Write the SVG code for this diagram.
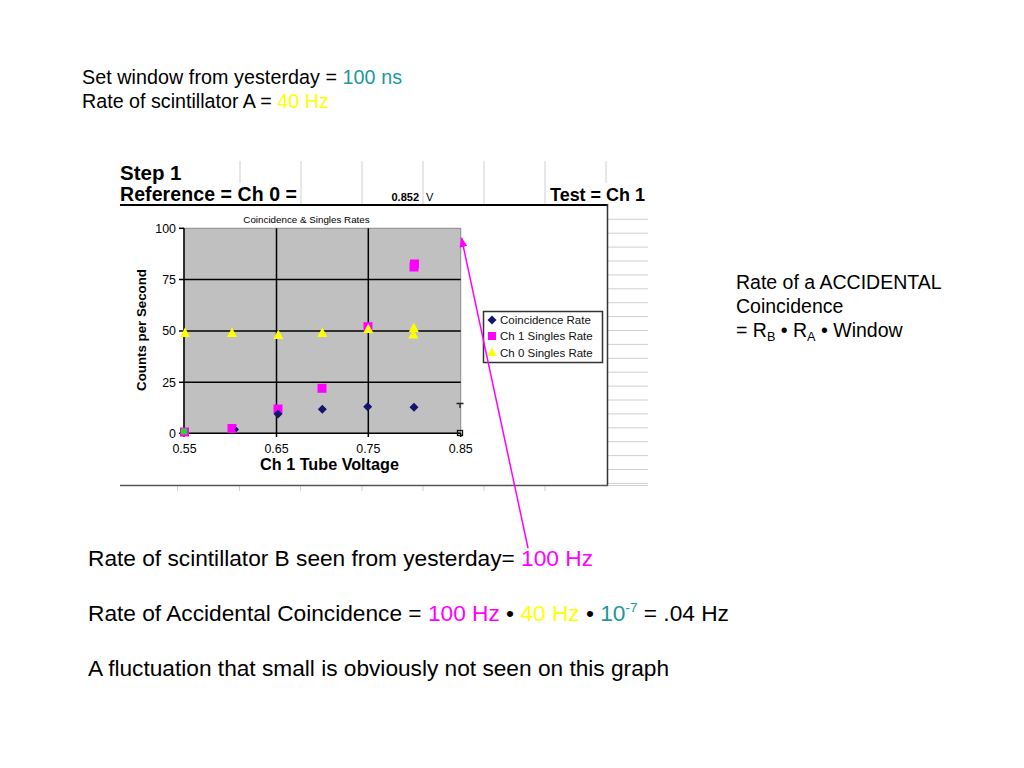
<svg xmlns="http://www.w3.org/2000/svg" width="1024" height="768" viewBox="0 0 1024 768">
<defs>
<style>
text{font-family:"Liberation Sans",Arial,sans-serif;fill:#000}
.b{font-weight:bold}
.mag{fill:#ff00ff}
.yel{fill:#ffff00}
.teal{fill:#1a9a9a}
.grid{stroke:#d0d0d0;stroke-width:1;fill:none}
.gl{stroke:#000;stroke-width:1.5;fill:none}
.ax{font-size:12.4px}
.leg{font-size:11.5px;fill:#111}
</style>
<path id="dia" d="M0,-4.5 L4.5,0 L0,4.5 L-4.5,0 Z" fill="#14146e"/>
<rect id="sq" x="-4.5" y="-4.5" width="9" height="9" fill="#ff00ff"/>
<path id="tri" d="M0,-5.5 L5,4 L-5,4 Z" fill="#ffff00"/>
<marker id="ah" viewBox="0 0 10 8" refX="9" refY="4" markerWidth="10" markerHeight="8" markerUnits="userSpaceOnUse" orient="auto">
<path d="M0,0 L10,4 L0,8 Z" fill="#ff00ff"/>
</marker>
</defs>
<rect width="1024" height="768" fill="#fff"/>

<g id="top-text">
<text x="82" y="84" font-size="19.7" textLength="320">Set window from yesterday = <tspan class="teal">100 ns</tspan></text>
<text x="82" y="108" font-size="19.7">Rate of scintillator A = <tspan class="yel">40 Hz</tspan></text>
</g>

<g id="spreadsheet">
<g class="grid">
<line x1="240" y1="161" x2="240" y2="183"/>
<line x1="301" y1="161" x2="301" y2="204"/>
<line x1="362" y1="161" x2="362" y2="204"/>
<line x1="423" y1="161" x2="423" y2="204"/>
<line x1="484" y1="161" x2="484" y2="204"/>
<line x1="545" y1="161" x2="545" y2="204"/>
<line x1="606" y1="161" x2="606" y2="183"/>
<line x1="608" y1="219.3" x2="648" y2="219.3"/>
<line x1="608" y1="233.2" x2="648" y2="233.2"/>
<line x1="608" y1="247.1" x2="648" y2="247.1"/>
<line x1="608" y1="261" x2="648" y2="261"/>
<line x1="608" y1="274.9" x2="648" y2="274.9"/>
<line x1="608" y1="288.8" x2="648" y2="288.8"/>
<line x1="608" y1="302.7" x2="648" y2="302.7"/>
<line x1="608" y1="316.6" x2="648" y2="316.6"/>
<line x1="608" y1="330.5" x2="648" y2="330.5"/>
<line x1="608" y1="344.4" x2="648" y2="344.4"/>
<line x1="608" y1="358.3" x2="648" y2="358.3"/>
<line x1="608" y1="372.2" x2="648" y2="372.2"/>
<line x1="608" y1="386.1" x2="648" y2="386.1"/>
<line x1="608" y1="400" x2="648" y2="400"/>
<line x1="608" y1="413.9" x2="648" y2="413.9"/>
<line x1="608" y1="427.8" x2="648" y2="427.8"/>
<line x1="608" y1="441.7" x2="648" y2="441.7"/>
<line x1="608" y1="455.6" x2="648" y2="455.6"/>
<line x1="608" y1="469.5" x2="648" y2="469.5"/>
<line x1="608" y1="483.4" x2="648" y2="483.4"/>
<line x1="608" y1="485.5" x2="648" y2="485.5"/>
<line x1="177.5" y1="486" x2="177.5" y2="491"/>
<line x1="239.5" y1="486" x2="239.5" y2="491"/>
<line x1="300.5" y1="486" x2="300.5" y2="491"/>
<line x1="362" y1="486" x2="362" y2="491"/>
<line x1="423" y1="486" x2="423" y2="491"/>
<line x1="484" y1="486" x2="484" y2="491"/>
<line x1="545" y1="486" x2="545" y2="491"/>
</g>
<text class="b" x="120" y="180" font-size="20.5">Step 1</text>
<text class="b" x="120" y="201" font-size="19.5" textLength="177">Reference = Ch 0 =</text>
<text x="419" y="201" font-size="11" text-anchor="end" font-weight="bold" fill="#222">0.852</text>
<text x="426" y="201" font-size="11" fill="#222">V</text>
<text class="b" x="550" y="201" font-size="19" textLength="95" lengthAdjust="spacingAndGlyphs">Test = Ch 1</text>
<line x1="120" y1="205" x2="607" y2="205" stroke="#000" stroke-width="2"/>
<line x1="607.5" y1="204" x2="607.5" y2="485.5" stroke="#333" stroke-width="1.5"/>
<line x1="120" y1="485.5" x2="608" y2="485.5" stroke="#555" stroke-width="1.5"/>
</g>

<g id="chart">
<text x="306.5" y="223" font-size="9.8" text-anchor="middle" fill="#222">Coincidence &amp; Singles Rates</text>
<rect x="184" y="228.3" width="276.7" height="205" fill="#c0c0c0" stroke="#8a8a8a" stroke-width="1"/>
<line class="gl" x1="184" y1="279.5" x2="460.7" y2="279.5"/>
<line class="gl" x1="184" y1="331" x2="460.7" y2="331"/>
<line class="gl" x1="184" y1="382.3" x2="460.7" y2="382.3"/>
<line class="gl" x1="276.5" y1="228.3" x2="276.5" y2="437"/>
<line class="gl" x1="368.3" y1="228.3" x2="368.3" y2="437"/>
<line class="gl" x1="184" y1="228.3" x2="184" y2="437"/>
<line class="gl" x1="184" y1="433.3" x2="460.7" y2="433.3"/>
<line class="gl" x1="460.7" y1="433.3" x2="460.7" y2="437"/>
<g class="gl">
<line x1="179" y1="228.3" x2="184" y2="228.3"/>
<line x1="179" y1="279.5" x2="184" y2="279.5"/>
<line x1="179" y1="331" x2="184" y2="331"/>
<line x1="179" y1="382.3" x2="184" y2="382.3"/>
<line x1="179" y1="433.3" x2="184" y2="433.3"/>
</g>
<g class="ax" text-anchor="end">
<text x="176" y="232.5">100</text>
<text x="176" y="283.7">75</text>
<text x="176" y="335.2">50</text>
<text x="176" y="386.5">25</text>
<text x="176" y="437.5">0</text>
</g>
<g class="ax" text-anchor="middle">
<text x="184.5" y="453">0.55</text>
<text x="276.5" y="453">0.65</text>
<text x="368.3" y="453">0.75</text>
<text x="460.7" y="453">0.85</text>
</g>
<text class="b" x="329.5" y="470" font-size="16.2" text-anchor="middle">Ch 1 Tube Voltage</text>
<text class="b" transform="translate(146,330) rotate(-90)" font-size="13.3" text-anchor="middle">Counts per Second</text>

<g id="series-ch1">
<use href="#sq" x="184.5" y="432"/>
<use href="#sq" x="232" y="428.5"/>
<use href="#sq" x="278" y="409"/>
<use href="#sq" x="322" y="388.3"/>
<use href="#sq" x="368" y="326.7"/>
<use href="#sq" x="414" y="267"/>
<use href="#sq" x="414.5" y="264"/>
</g>
<g id="series-coinc">
<path d="M236.5,427 L239,429.5 L236.5,432 L234,429.5 Z" fill="#14146e"/>
<use href="#dia" x="278" y="414"/>
<use href="#dia" x="322.3" y="409.3"/>
<use href="#dia" x="367.7" y="406.7"/>
<use href="#dia" x="414" y="407.3"/>
</g>
<g id="series-ch0">
<use href="#tri" x="185" y="333"/>
<use href="#tri" x="232" y="333"/>
<use href="#tri" x="278.3" y="335"/>
<use href="#tri" x="322.3" y="333"/>
<use href="#tri" x="368.3" y="329"/>
<use href="#tri" x="413.3" y="334.5"/>
<use href="#tri" x="413.8" y="328"/>
</g>
<rect x="181" y="428.5" width="6" height="6" fill="#22dd22"/>
<path d="M456.5,403.5 L463.5,403.5 M460,403.5 L460,408" stroke="#222" stroke-width="1.3" fill="none"/>
<rect x="457.5" y="430.5" width="5" height="5" fill="none" stroke="#111" stroke-width="1.3"/>

<g id="legend">
<rect x="483.5" y="311.5" width="119" height="51" fill="#fff" stroke="#333" stroke-width="1.5"/>
<use href="#dia" x="492" y="320"/>
<rect x="488" y="332" width="8" height="8" fill="#ff00ff"/>
<path d="M492,347.5 L496.5,356 L487.5,356 Z" fill="#ffff00"/>
<text class="leg" x="500" y="324">Coincidence Rate</text>
<text class="leg" x="500" y="340">Ch 1 Singles Rate</text>
<text class="leg" x="500" y="356.5">Ch 0 Singles Rate</text>
</g>
</g>

<g id="right-text">
<text x="736" y="289" font-size="19.5">Rate of a ACCIDENTAL</text>
<text x="736" y="313" font-size="19.5">Coincidence</text>
<text x="736" y="337" font-size="19.5">= R<tspan font-size="12.7" dy="4">B</tspan><tspan dy="-4"> • R</tspan><tspan font-size="12.7" dy="4">A</tspan><tspan dy="-4"> • Window</tspan></text>
</g>

<g id="connectors">
<line x1="528" y1="548" x2="461.5" y2="238" stroke="#ff00ff" stroke-width="1.5" marker-end="url(#ah)"/>
</g>

<g id="bottom-text">
<text x="88" y="566" font-size="22.7" textLength="505">Rate of scintillator B seen from yesterday= <tspan class="mag">100 Hz</tspan></text>
<text x="88" y="621" font-size="22.7">Rate of Accidental Coincidence = <tspan class="mag">100 Hz</tspan> • <tspan class="yel">40 Hz</tspan> • <tspan class="teal">10<tspan font-size="13.5" dy="-9">-7</tspan></tspan><tspan dy="9"> = .04 Hz</tspan></text>
<text x="88" y="676" font-size="22.7" textLength="581">A fluctuation that small is obviously not seen on this graph</text>
</g>
</svg>
